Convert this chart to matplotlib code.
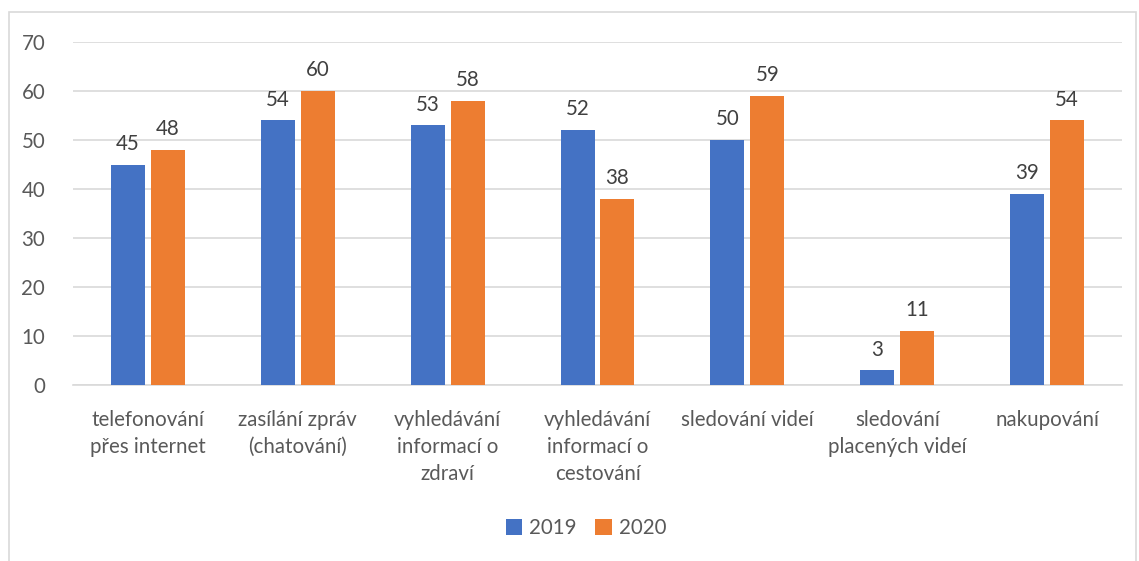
import matplotlib
matplotlib.use("Agg")
import matplotlib.pyplot as plt
import numpy as np
from matplotlib.patches import Rectangle

categories = ["telefonování\npřes internet", "zasílání zpráv\n(chatování)",
              "vyhledávání\ninformací o\nzdraví", "vyhledávání\ninformací o\ncestování",
              "sledování videí", "sledování\nplacených videí", "nakupování"]
v2019 = [45, 54, 53, 52, 50, 3, 39]
v2020 = [48, 60, 58, 38, 59, 11, 54]
series_names = ["2019", "2020"]
yticks = [0, 10, 20, 30, 40, 50, 60, 70]

plt.rcParams['font.family'] = ['Lato', 'DejaVu Sans']
txt = '#404040'
tick_c = '#595959'
fs = 14.8

fig = plt.figure(figsize=(11.39, 5.61), dpi=100)
ax = fig.add_axes([73/1139, 1-385/561, (1122-73)/1139, (385-42)/561])

fig.patches.append(Rectangle((9/1139, -0.1), (1136-9)/1139, 1.1 - 12/561,
                             transform=fig.transFigure, fill=False,
                             edgecolor='#d9d9d9', linewidth=1.2))

x = np.arange(len(categories))
w = 0.226
off = 0.133
b1 = ax.bar(x - off, v2019, w, color='#4472C4', label=series_names[0], zorder=3)
b2 = ax.bar(x + off, v2020, w, color='#ED7D31', label=series_names[1], zorder=3)
for bars, vals in ((b1, v2019), (b2, v2020)):
    for r, v in zip(bars, vals):
        ax.text(r.get_x() + r.get_width()/2, v + 2.2, str(v), ha='center', va='bottom',
                fontsize=fs, color=txt)

ax.set_xlim(-0.5, len(categories) - 0.5)
ax.set_ylim(0, 70)
ax.set_yticks(yticks)
ax.set_yticklabels([str(t) for t in yticks], fontsize=fs, color=tick_c)
ax.set_xticks(x)
ax.set_xticklabels(categories, fontsize=fs, color=tick_c, linespacing=1.45)
ax.yaxis.grid(True, color='#d9d9d9', linewidth=1.2, zorder=0)
for s in ['top', 'right', 'left']:
    ax.spines[s].set_visible(False)
ax.spines['bottom'].set_color('#d9d9d9')
ax.spines['bottom'].set_linewidth(1.2)
ax.tick_params(axis='x', length=0, pad=18)
ax.tick_params(axis='y', length=0, pad=20)

leg = fig.legend(handles=[b1, b2], labels=series_names, loc='center',
                 bbox_to_anchor=(586/1139, 1-528/561), ncol=2, frameon=False,
                 fontsize=fs, handlelength=0.8, handleheight=0.8,
                 handletextpad=0.35, columnspacing=0.9, borderpad=0)
for t in leg.get_texts():
    t.set_color(tick_c)

fig.savefig("out.png", dpi=100)
